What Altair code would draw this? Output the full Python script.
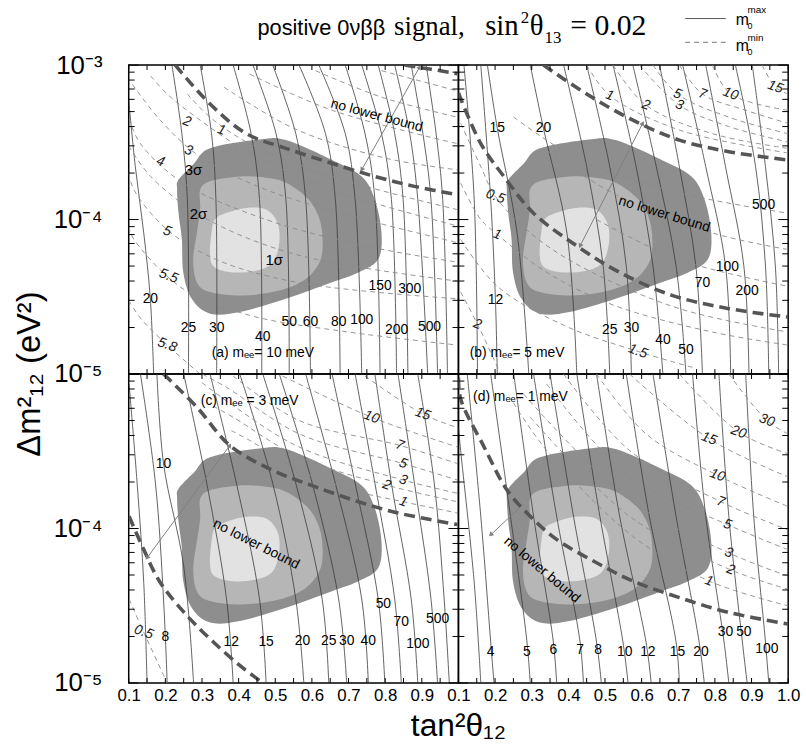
import altair as alt
import pandas as pd

W, H = 333, 312

# ---------------- shared confidence regions (tan^2, dm^2) ----------------
R3_X = [0.236, 0.278, 0.322, 0.457, 0.529, 0.655, 0.736, 0.772, 0.790, 0.781, 0.727, 0.655, 0.529, 0.403, 0.322, 0.272, 0.249, 0.245, 0.236, 0.232]
R3_Y = [1.81e-4, 2.3e-4, 2.89e-4, 3.30e-4, 3.27e-4, 2.43e-4, 1.90e-4, 1.345e-4, 8.2e-5, 5.54e-5, 4.55e-5, 3.93e-5, 3.07e-5, 2.52e-5, 2.46e-5, 3.07e-5, 4.55e-5, 7.45e-5, 1.10e-4, 1.56e-4]
R2_X = [0.295, 0.322, 0.385, 0.439, 0.520, 0.583, 0.614, 0.628, 0.624, 0.583, 0.511, 0.412, 0.322, 0.286, 0.276, 0.286, 0.295]
R2_Y = [1.56e-4, 1.77e-4, 1.88e-4, 1.90e-4, 1.77e-4, 1.41e-4, 1.105e-4, 8.22e-5, 5.54e-5, 4.12e-5, 3.47e-5, 3.22e-5, 3.39e-5, 3.93e-5, 5.54e-5, 8.22e-5, 1.16e-4]
R1_X = [0.335, 0.367, 0.421, 0.475, 0.506, 0.511, 0.493, 0.448, 0.385, 0.335, 0.322, 0.326]
R1_Y = [1.0e-4, 1.105e-4, 1.19e-4, 1.16e-4, 9.53e-5, 7.1e-5, 5.28e-5, 4.67e-5, 4.55e-5, 4.9e-5, 5.83e-5, 8.22e-5]

# tick positions / labels
X_TICKS = [0.1, 0.15, 0.2, 0.25, 0.3, 0.35, 0.4, 0.45, 0.5, 0.55, 0.6, 0.65, 0.7, 0.75, 0.8, 0.85, 0.9, 0.95, 1.0]
Y_MINOR = [2e-5, 3e-5, 4e-5, 5e-5, 6e-5, 7e-5, 8e-5, 9e-5, 2e-4, 3e-4, 4e-4, 5e-4, 6e-4, 7e-4, 8e-4, 9e-4]
Y_MAJOR = [1e-5, 1e-4, 1e-3]
X_LABELS_C = [0.1, 0.2, 0.3, 0.4, 0.5, 0.6, 0.7, 0.8, 0.9]
X_LABELS_D = [0.1, 0.2, 0.3, 0.4, 0.5, 0.6, 0.7, 0.8, 0.9, 1.0]
Y_LABELS_A = [1e-3, 1e-4, 1e-5]
Y_LABELS_C = [1e-4, 1e-5]

# ---------------- panel (a): m_ee = 10 meV ----------------
LA = [1e-3, 3.6e-4, 1.35e-4, 1e-5]
A_SOLID = [
    ("20", [0.100, 0.118, 0.141, 0.159, 0.168], [5.9e-4, 2.2e-4, 8.2e-5, 3.07e-5, 1e-5]),
    ("25", [0.218, 0.245, 0.260, 0.263], LA),
    ("30", [0.295, 0.326, 0.338, 0.340], LA),
    ("40", [0.385, 0.434, 0.457, 0.463], LA),
    ("50", [0.439, 0.502, 0.529, 0.538], LA),
    ("60", [0.493, 0.556, 0.583, 0.596], LA),
    ("80", [0.565, 0.637, 0.664, 0.677], LA),
    ("100", [0.619, 0.691, 0.718, 0.736], LA),
    ("150", [0.691, 0.745, 0.772, 0.786], LA),
    ("200", [0.736, 0.790, 0.817, 0.831], LA),
    ("300", [0.781, 0.826, 0.849, 0.862], LA),
    ("500", [0.826, 0.867, 0.889, 0.916], LA),
    ("", [0.871, 0.903, 0.925, 0.943], LA),
    ("", [0.912, 0.939, 0.957, 0.970], LA),
]
A_SOLID_LAB = [("20", 0.159, 3.07e-5), ("25", 0.263, 1.97e-5), ("30", 0.340, 1.97e-5), ("40", 0.466, 1.74e-5),
               ("50", 0.538, 2.17e-5), ("60", 0.596, 2.17e-5), ("80", 0.673, 2.17e-5), ("100", 0.736, 2.22e-5),
               ("150", 0.786, 3.7e-5), ("300", 0.867, 3.55e-5), ("200", 0.831, 1.92e-5), ("500", 0.921, 2.02e-5)]
A_DASH = [
    ("1", [0.26, 0.322, 0.430, 0.655, 0.997], [6.5e-4, 4.6e-4, 3.1e-4, 1.9e-4, 1.16e-4]),
    ("2", [0.16, 0.205, 0.295, 0.430, 0.655, 0.997], [8.5e-4, 6.5e-4, 4.4e-4, 2.7e-4, 1.56e-4, 9.1e-5]),
    ("3", [0.11, 0.186, 0.295, 0.475, 0.745, 0.997], [7.5e-4, 4.4e-4, 2.55e-4, 1.56e-4, 1.0e-4, 7.1e-5]),
    ("4", [0.10, 0.132, 0.249, 0.475, 0.745, 0.997], [4.5e-4, 3.1e-4, 1.72e-4, 1.0e-4, 6.75e-5, 5.3e-5]),
    ("", [0.10, 0.16, 0.30, 0.55, 0.997], [3.0e-4, 1.9e-4, 1.05e-4, 6.0e-5, 4.0e-5]),
    ("5", [0.10, 0.114, 0.205, 0.340, 0.565, 0.997], [2.0e-4, 1.56e-4, 8.6e-5, 5.5e-5, 3.9e-5, 3.07e-5]),
    ("5.5", [0.10, 0.114, 0.249, 0.430, 0.700, 0.997], [9e-5, 7.45e-5, 3.55e-5, 2.4e-5, 1.87e-5, 1.54e-5]),
    ("5.8", [0.10, 0.132, 0.205, 0.295], [3e-5, 2.3e-5, 1.54e-5, 1e-5]),
    ("", [0.36, 0.55, 0.80, 0.997], [7.2e-4, 3.9e-4, 2.5e-4, 2.1e-4]),
    ("", [0.43, 0.655, 0.997], [8.75e-4, 5.1e-4, 3.1e-4]),
    ("", [0.61, 0.79, 0.997], [9.2e-4, 6.2e-4, 4.6e-4]),
    ("", [0.79, 0.997], [9.2e-4, 6.8e-4]),
]
A_DASH_LAB = [("2", 0.259, 4.3e-4), ("1", 0.353, 3.8e-4), ("3", 0.263, 2.8e-4), ("4", 0.187, 2.37e-4),
              ("5", 0.205, 8.4e-5), ("5.5", 0.209, 4.3e-5), ("5.8", 0.205, 1.54e-5)]
A_THICK = [
    ("t1", [0.227, 0.322, 0.421, 0.529, 0.655, 0.772, 0.880, 0.997], [1e-3, 5.6e-4, 3.6e-4, 2.89e-4, 2.31e-4, 1.9e-4, 1.64e-4, 1.45e-4]),
    ("t2", [0.853, 0.925, 0.997], [1e-3, 9.4e-4, 8.8e-4]),
]
A_ARROWS = [(0.894, 9.7e-4, 0.736, 2.1e-4)]
A_HEADS = [(0.894, 9.7e-4, 29), (0.736, 2.1e-4, 209)]
A_NOTE = ("no lower bound", 0.777, 4.7e-4, 15)
A_TAG = ("(a) mₑₑ= 10 meV", 0.466, 1.36e-5)
A_SIGMA = [("3σ", 0.277, 2.1e-4), ("2σ", 0.290, 1.08e-4), ("1σ", 0.497, 5.5e-5)]

# ---------------- panel (b): m_ee = 5 meV ----------------
LB = [1e-3, 2.2e-4, 5.0e-5, 1e-5]
B_SOLID = [
    ("", [0.115, 0.143, 0.152], [1e-3, 1.35e-4, 1e-5]),
    ("12", [0.161, 0.188, 0.201, 0.206], [1e-3, 1.35e-4, 3.0e-5, 1e-5]),
    ("15", [0.179, 0.206, 0.260, 0.292], [1e-3, 3.9e-4, 8.2e-5, 1e-5]),
    ("20", [0.296, 0.332, 0.396, 0.423], [1e-3, 3.9e-4, 8.2e-5, 1e-5]),
    ("25", [0.387, 0.450, 0.495, 0.513], LB),
    ("30", [0.450, 0.513, 0.558, 0.572], LB),
    ("40", [0.522, 0.585, 0.631, 0.658], LB),
    ("50", [0.576, 0.640, 0.694, 0.721], LB),
    ("70", [0.649, 0.703, 0.748, 0.766], LB),
    ("100", [0.712, 0.775, 0.829, 0.843], LB),
    ("200", [0.775, 0.829, 0.879, 0.893], LB),
    ("500", [0.856, 0.911, 0.938, 0.947], LB),
    ("", [0.902, 0.938, 0.965, 0.974], LB),
]
B_SOLID_LAB = [("15", 0.206, 3.9e-4), ("20", 0.332, 3.9e-4), ("12", 0.201, 3.0e-5), ("25", 0.513, 1.92e-5),
               ("30", 0.572, 1.97e-5), ("40", 0.658, 1.66e-5), ("50", 0.721, 1.43e-5), ("70", 0.766, 3.9e-5),
               ("100", 0.834, 4.9e-5), ("200", 0.888, 3.47e-5), ("500", 0.933, 1.25e-4)]
B_DASH = [
    ("1", [0.450, 0.513, 0.703, 0.999], [1e-3, 6.35e-4, 3.8e-4, 2.7e-4]),
    ("2", [0.522, 0.612, 0.793, 0.999], [1e-3, 5.5e-4, 3.6e-4, 2.89e-4]),
    ("3", [0.594, 0.703, 0.838, 0.999], [1e-3, 5.5e-4, 4.0e-4, 3.18e-4]),
    ("5", [0.631, 0.698, 0.838, 0.999], [1e-3, 6.5e-4, 4.6e-4, 3.6e-4]),
    ("7", [0.703, 0.766, 0.884, 0.999], [1e-3, 6.5e-4, 5.1e-4, 4.2e-4]),
    ("10", [0.793, 0.843, 0.999], [1e-3, 6.5e-4, 5.1e-4]),
    ("15", [0.929, 0.965, 0.999], [1e-3, 7.2e-4, 6.5e-4]),
    ("0.5", [0.106, 0.161, 0.201, 0.296, 0.432, 0.703, 0.999], [4.2e-4, 2.2e-4, 1.41e-4, 8.2e-5, 5.0e-5, 2.65e-5, 1.87e-5]),
    ("1", [0.106, 0.161, 0.206, 0.341, 0.522, 0.793, 0.999], [1.72e-4, 1.0e-4, 8.0e-5, 4.55e-5, 2.8e-5, 1.87e-5, 1.54e-5]),
    ("1.5", [0.106, 0.206, 0.387, 0.590, 0.748], [7.45e-5, 3.7e-5, 2.07e-5, 1.4e-5, 1.09e-5]),
    ("2", [0.106, 0.152, 0.215], [3.4e-5, 2.1e-5, 1e-5]),
    ("", [0.251, 0.432, 0.703, 0.999], [4.6e-4, 2.43e-4, 1.49e-4, 1.1e-4]),
    ("", [0.341, 0.522, 0.793, 0.999], [2.8e-4, 1.48e-4, 8.2e-5, 6.4e-5]),
    ("", [0.477, 0.703, 0.999], [1.0e-4, 5.5e-5, 3.7e-5]),
]
B_DASH_LAB = [("1", 0.513, 6.35e-4), ("2", 0.612, 5.5e-4), ("5", 0.698, 6.5e-4), ("3", 0.703, 5.5e-4),
              ("7", 0.766, 6.5e-4), ("10", 0.843, 6.5e-4), ("15", 0.965, 7.2e-4), ("0.5", 0.201, 1.41e-4),
              ("1", 0.206, 8.0e-5), ("2", 0.152, 2.1e-5), ("1.5", 0.590, 1.4e-5)]
B_THICK = [
    ("t1", [0.332, 0.450, 0.576, 0.703, 0.838, 0.999], [1e-3, 6.5e-4, 4.4e-4, 3.27e-4, 2.75e-4, 2.43e-4]),
    ("t2", [0.100, 0.161, 0.224, 0.305, 0.423, 0.540, 0.685, 0.838, 0.999], [6.6e-4, 3.1e-4, 1.9e-4, 1.1e-4, 6.75e-5, 4.55e-5, 3.22e-5, 2.65e-5, 2.34e-5]),
]
B_ARROWS = [(0.603, 4.2e-4, 0.432, 6.75e-5)]
B_HEADS = [(0.603, 4.2e-4, 27), (0.432, 6.75e-5, 207)]
B_NOTE = ("no lower bound", 0.662, 1.08e-4, 17)
B_TAG = ("(b) mₑₑ= 5 meV", 0.260, 1.36e-5)

# ---------------- panel (c): m_ee = 3 meV ----------------
LC = [1e-3, 1.96e-4, 3.49e-5, 1e-5]
C_SOLID = [
    ("", [0.101, 0.123, 0.141, 0.150], [8.6e-4, 1.96e-4, 4.47e-5, 1e-5]),
    ("8", [0.132, 0.173, 0.195, 0.205], LC),
    ("10", [0.177, 0.195, 0.250, 0.277], [1e-3, 2.63e-4, 5.7e-5, 1e-5]),
    ("12", [0.250, 0.313, 0.367, 0.385], LC),
    ("15", [0.322, 0.394, 0.457, 0.475], LC),
    ("20", [0.403, 0.493, 0.556, 0.578], LC),
    ("25", [0.466, 0.556, 0.628, 0.646], LC),
    ("30", [0.511, 0.601, 0.673, 0.695], LC),
    ("40", [0.583, 0.664, 0.736, 0.754], LC),
    ("50", [0.655, 0.718, 0.781, 0.799], LC),
    ("70", [0.718, 0.772, 0.826, 0.844], LC),
    ("100", [0.772, 0.817, 0.871, 0.889], LC),
    ("500", [0.835, 0.880, 0.925, 0.943], LC),
    ("", [0.889, 0.934, 0.961, 0.975], LC),
]
C_SOLID_LAB = [("10", 0.195, 2.63e-4), ("8", 0.200, 1.98e-5), ("12", 0.380, 1.84e-5), ("15", 0.475, 1.84e-5),
               ("20", 0.574, 1.86e-5), ("25", 0.646, 1.86e-5), ("30", 0.695, 1.86e-5), ("40", 0.754, 1.86e-5),
               ("50", 0.795, 3.24e-5), ("70", 0.844, 2.47e-5), ("100", 0.889, 1.79e-5), ("500", 0.943, 2.6e-5)]
C_DASH = [
    ("1", [0.38, 0.430, 0.565, 0.727, 0.849, 0.997], [4.3e-4, 3.72e-4, 2.38e-4, 1.73e-4, 1.49e-4, 1.26e-4]),
    ("2", [0.33, 0.385, 0.565, 0.804, 0.997], [6.2e-4, 5.25e-4, 2.9e-4, 1.91e-4, 1.49e-4]),
    ("3", [0.30, 0.367, 0.565, 0.849, 0.997], [8.8e-4, 6.7e-4, 3.37e-4, 2.06e-4, 1.69e-4]),
    ("5", [0.30, 0.367, 0.565, 0.849, 0.997], [1e-3, 8.2e-4, 4.1e-4, 2.63e-4, 2.06e-4]),
    ("7", [0.385, 0.565, 0.840, 0.997], [9.7e-4, 5.0e-4, 3.45e-4, 2.63e-4]),
    ("10", [0.520, 0.763, 0.997], [9.7e-4, 5.25e-4, 3.37e-4]),
    ("15", [0.745, 0.903, 0.997], [9.7e-4, 5.5e-4, 4.5e-4]),
    ("0.5", [0.101, 0.141, 0.205], [3.49e-5, 2.13e-5, 1e-5]),
]
C_DASH_LAB = [("10", 0.763, 5.25e-4), ("15", 0.903, 5.5e-4), ("7", 0.840, 3.45e-4), ("5", 0.849, 2.63e-4),
              ("3", 0.849, 2.06e-4), ("2", 0.804, 1.91e-4), ("1", 0.849, 1.49e-4), ("0.5", 0.141, 2.13e-5)]
C_THICK = [
    ("t1", [0.195, 0.286, 0.376, 0.493, 0.610, 0.727, 0.835, 0.997], [1e-3, 6.1e-4, 3.45e-4, 2.38e-4, 1.86e-4, 1.49e-4, 1.26e-4, 1.06e-4]),
    ("t2", [0.101, 0.141, 0.186, 0.259, 0.331, 0.403, 0.466], [1.2e-4, 7.3e-5, 4.47e-5, 2.73e-5, 1.84e-5, 1.3e-5, 1e-5]),
]
C_ARROWS = [(0.376, 3.45e-4, 0.150, 6.45e-5)]
C_HEADS = [(0.376, 3.45e-4, 36), (0.150, 6.45e-5, 216)]
C_NOTE = ("no lower bound", 0.448, 7.9e-5, 27)
C_TAG = ("(c) mₑₑ = 3 meV", 0.430, 6.7e-4)

# ---------------- panel (d): m_ee = 1 meV ----------------
LD = [1e-3, 1.2e-4, 1.84e-5, 1e-5]
D_SOLID = [
    ("", [0.100, 0.106, 0.143, 0.161], [4.5e-4, 3.2e-4, 4.47e-5, 1e-5]),
    ("4", [0.124, 0.161, 0.188, 0.197], LD),
    ("5", [0.188, 0.242, 0.287, 0.296], LD),
    ("6", [0.251, 0.305, 0.359, 0.368], LD),
    ("7", [0.305, 0.368, 0.432, 0.441], LD),
    ("8", [0.350, 0.414, 0.477, 0.490], LD),
    ("10", [0.423, 0.486, 0.549, 0.563], LD),
    ("12", [0.477, 0.540, 0.612, 0.626], LD),
    ("15", [0.558, 0.621, 0.694, 0.703], LD),
    ("20", [0.631, 0.694, 0.757, 0.771], LD),
    ("30", [0.739, 0.775, 0.825, 0.838], LD),
    ("50", [0.811, 0.838, 0.875, 0.888], LD),
    ("100", [0.884, 0.906, 0.938, 0.947], LD),
]
D_SOLID_LAB = [("4", 0.188, 1.59e-5), ("5", 0.287, 1.59e-5), ("6", 0.359, 1.63e-5), ("7", 0.432, 1.63e-5),
               ("8", 0.481, 1.63e-5), ("10", 0.554, 1.59e-5), ("12", 0.617, 1.59e-5), ("15", 0.698, 1.59e-5),
               ("20", 0.762, 1.59e-5), ("30", 0.829, 2.13e-5), ("50", 0.879, 2.13e-5), ("100", 0.942, 1.67e-5)]
D_DASH = [
    ("1", [0.25, 0.341, 0.576, 0.784, 0.999], [6.5e-4, 3.2e-4, 8.9e-5, 4.57e-5, 3.16e-5]),
    ("2", [0.296, 0.567, 0.843, 0.999], [5.25e-4, 1.2e-4, 5.4e-5, 4.05e-5]),
    ("3", [0.278, 0.567, 0.838, 0.999], [7.4e-4, 1.53e-4, 6.95e-5, 4.92e-5]),
    ("5", [0.341, 0.567, 0.834, 0.999], [8.6e-4, 2.16e-4, 1.06e-4, 7.3e-5]),
    ("7", [0.387, 0.567, 0.816, 0.999], [1e-3, 3.2e-4, 1.49e-4, 9.8e-5]),
    ("10", [0.477, 0.612, 0.807, 0.999], [1e-3, 4.1e-4, 2.21e-4, 1.39e-4]),
    ("15", [0.567, 0.784, 0.999], [1e-3, 3.81e-4, 2.16e-4]),
    ("20", [0.703, 0.865, 0.999], [1e-3, 4.2e-4, 3.05e-4]),
    ("30", [0.838, 0.942, 0.999], [1e-3, 5.0e-4, 4.1e-4]),
]
D_DASH_LAB = [("30", 0.942, 5.0e-4), ("20", 0.865, 4.2e-4), ("15", 0.784, 3.81e-4), ("10", 0.807, 2.21e-4),
              ("7", 0.816, 1.49e-4), ("5", 0.834, 1.06e-4), ("3", 0.838, 6.95e-5), ("2", 0.843, 5.4e-5),
              ("1", 0.784, 4.57e-5)]
D_THICK = [
    ("t1", [0.100, 0.106, 0.170, 0.233, 0.296, 0.368, 0.477, 0.576, 0.703, 0.838, 0.999],
     [9.5e-4, 6.9e-4, 3.37e-4, 1.77e-4, 1.2e-4, 8.5e-5, 6.0e-5, 4.57e-5, 3.57e-5, 2.86e-5, 2.41e-5]),
]
D_ARROWS = [(0.265, 1.35e-4, 0.188, 9.1e-5)]
D_HEADS = [(0.188, 9.1e-5, 227)]
D_NOTE = ("no lower bound", 0.328, 5.4e-5, 40)
D_TAG = ("(d) mₑₑ= 1 meV", 0.269, 7.05e-4)

FONT = "Liberation Sans"
SERIF = "Liberation Serif"


def xaxis(vals):
    if not vals:
        return None
    return alt.Axis(values=vals, format=".1f", labelFontSize=17, labelFont=FONT, labelColor="black",
                    labelPadding=5, labelFlush=False, labelOverlap=False, labelBound=False,
                    domain=False, ticks=False, tickSize=0, grid=False, title=None)


def yaxis(vals):
    if not vals:
        return None
    return alt.Axis(values=vals,
                    labelExpr="datum.value > 0.0005 ? '10⁻³' : (datum.value > 0.00005 ? '10⁻⁴' : '10⁻⁵')",
                    labelFontSize=26, labelFont=FONT, labelColor="black", labelPadding=27,
                    labelFlush=False, labelOverlap=False, domain=False, ticks=False, tickSize=0,
                    grid=False, title=None)


def lines_df(lines):
    rows = []
    for k, (lab, xs, ys) in enumerate(lines):
        for i, (x, y) in enumerate(zip(xs, ys)):
            rows.append({"id": k, "i": i, "x": x, "y": y})
    return pd.DataFrame(rows)


def lab_df(labs):
    return pd.DataFrame([{"t": t, "x": x, "y": y} for t, x, y in labs])


def panel(solid, solid_lab, dash, dash_lab, thick, arrows, heads, note, tag, xlab=None, ylab=None, extra=()):
    xa = xaxis(xlab)
    ya = yaxis(ylab)

    def X():
        return alt.X("x:Q", scale=alt.Scale(domain=[0.1, 1.0], nice=False, zero=False), axis=xa)

    def Y():
        return alt.Y("y:Q", scale=alt.Scale(type="log", domain=[1e-5, 1e-3], nice=False), axis=ya)

    layers = []
    for rx, ry, col in [(R3_X, R3_Y, "#8e8e8e"), (R2_X, R2_Y, "#b6b6b6"), (R1_X, R1_Y, "#e2e2e2")]:
        df = pd.DataFrame({"x": rx, "y": ry, "i": list(range(len(rx)))})
        layers.append(alt.Chart(df).mark_line(filled=True, color=col, interpolate="cardinal-closed", strokeWidth=0)
                      .encode(X(), Y(), order="i:Q"))
    layers.append(alt.Chart(lines_df(solid)).mark_line(color="#3a3a3a", strokeWidth=0.8, interpolate="catmull-rom", clip=True)
                  .encode(X(), Y(), detail="id:N", order="i:Q"))
    layers.append(alt.Chart(lines_df(dash)).mark_line(color="#8a8a8a", strokeWidth=0.9, strokeDash=[5, 4], interpolate="catmull-rom", clip=True)
                  .encode(X(), Y(), detail="id:N", order="i:Q"))
    layers.append(alt.Chart(lines_df(thick)).mark_line(color="#555555", strokeWidth=3.6, strokeDash=[11, 6], interpolate="catmull-rom", clip=True)
                  .encode(X(), Y(), detail="id:N", order="i:Q"))
    adf = pd.DataFrame([{"x": a, "y": b, "x2": c, "y2": d} for a, b, c, d in arrows])
    layers.append(alt.Chart(adf).mark_rule(color="#808080", strokeWidth=1).encode(X(), Y(), x2="x2:Q", y2="y2:Q"))
    hdf = pd.DataFrame([{"x": a, "y": b, "a": c} for a, b, c in heads])
    layers.append(alt.Chart(hdf).mark_point(shape="triangle-up", filled=True, color="#808080", size=28, opacity=1)
                  .encode(X(), Y(), angle=alt.Angle("a:Q", scale=None)))
    layers.append(alt.Chart(lab_df(solid_lab)).mark_text(font=FONT, fontSize=14, color="black")
                  .encode(X(), Y(), text="t:N"))
    layers.append(alt.Chart(lab_df(dash_lab)).mark_text(font=FONT, fontSize=14, fontStyle="italic", angle=20, color="#222")
                  .encode(X(), Y(), text="t:N"))
    layers.append(alt.Chart(lab_df([note[:3]])).mark_text(font=FONT, fontSize=14, angle=note[3], color="black")
                  .encode(X(), Y(), text="t:N"))
    layers.append(alt.Chart(lab_df([tag])).mark_text(font=FONT, fontSize=14, color="black")
                  .encode(X(), Y(), text="t:N"))
    # inward ticks on all four sides
    xt = pd.DataFrame({"x": X_TICKS})
    layers.append(alt.Chart(xt).mark_rule(color="black", strokeWidth=1).encode(X(), y=alt.value(0), y2=alt.value(5)))
    layers.append(alt.Chart(xt).mark_rule(color="black", strokeWidth=1).encode(X(), y=alt.value(H - 5), y2=alt.value(H)))
    ymn = pd.DataFrame({"y": Y_MINOR})
    ymj = pd.DataFrame({"y": Y_MAJOR})
    layers.append(alt.Chart(ymn).mark_rule(color="black", strokeWidth=1).encode(Y(), x=alt.value(0), x2=alt.value(6)))
    layers.append(alt.Chart(ymn).mark_rule(color="black", strokeWidth=1).encode(Y(), x=alt.value(W - 6), x2=alt.value(W)))
    layers.append(alt.Chart(ymj).mark_rule(color="black", strokeWidth=1).encode(Y(), x=alt.value(0), x2=alt.value(10)))
    layers.append(alt.Chart(ymj).mark_rule(color="black", strokeWidth=1).encode(Y(), x=alt.value(W - 10), x2=alt.value(W)))
    for e in extra:
        if isinstance(e, tuple):
            layers.append(alt.Chart(lab_df(e[0])).mark_text(**e[1]).encode(X(), Y(), text="t:N"))
        else:
            layers.append(e)
    return alt.layer(*layers).properties(width=W, height=H)


one = pd.DataFrame({"k": [0]})


def vtext(txt, x, y, **kw):
    base = dict(align="left", baseline="alphabetic", color="black")
    base.update(kw)
    return alt.Chart(one).mark_text(**base).encode(x=alt.value(x), y=alt.value(y), text=alt.value(txt))


# header / titles placed around the panels
header_a = [
    vtext("positive 0νββ", 130, -30, font=FONT, fontSize=22),
    vtext("signal,", 268, -30, font=SERIF, fontSize=27),
    vtext("sin", 360, -30, font=SERIF, fontSize=29),
    vtext("2", 396, -43, font=SERIF, fontSize=17),
    vtext("θ", 405, -30, font=SERIF, fontSize=29),
    vtext("13", 420, -22, font=SERIF, fontSize=17),
    vtext("= 0.02", 446, -30, font=SERIF, fontSize=30),
    vtext("Δm²₁₂ (eV²)", -100, H, font=FONT, fontSize=33, angle=270, align="center", baseline="middle"),
    (A_SIGMA, dict(font=FONT, fontSize=15, color="black")),
]
header_b = [
    alt.Chart(one).mark_rule(color="#555", strokeWidth=1).encode(x=alt.value(229), x2=alt.value(270), y=alt.value(-47)),
    alt.Chart(one).mark_rule(color="#777", strokeWidth=1, strokeDash=[5, 4]).encode(x=alt.value(229), x2=alt.value(270), y=alt.value(-23)),
    vtext("m", 280, -40, font=FONT, fontSize=16),
    vtext("0", 292, -36, font=FONT, fontSize=9),
    vtext("max", 292, -53, font=FONT, fontSize=10),
    vtext("m", 280, -14, font=FONT, fontSize=16),
    vtext("0", 292, -10, font=FONT, fontSize=9),
    vtext("min", 292, -24, font=FONT, fontSize=10),
]
header_c = [
    vtext("tan²θ₁₂", W, H + 44, font=FONT, fontSize=32, align="center", baseline="middle"),
]

pa = panel(A_SOLID, A_SOLID_LAB, A_DASH, A_DASH_LAB, A_THICK, A_ARROWS, A_HEADS, A_NOTE, A_TAG,
           ylab=Y_LABELS_A, extra=header_a)
pb = panel(B_SOLID, B_SOLID_LAB, B_DASH, B_DASH_LAB, B_THICK, B_ARROWS, B_HEADS, B_NOTE, B_TAG, extra=header_b)
pc = panel(C_SOLID, C_SOLID_LAB, C_DASH, C_DASH_LAB, C_THICK, C_ARROWS, C_HEADS, C_NOTE, C_TAG,
           xlab=X_LABELS_C, ylab=Y_LABELS_C, extra=header_c)
pd_ = panel(D_SOLID, D_SOLID_LAB, D_DASH, D_DASH_LAB, D_THICK, D_ARROWS, D_HEADS, D_NOTE, D_TAG,
            xlab=X_LABELS_D)

chart = alt.concat(pa, pb, pc, pd_, columns=2, spacing=0, bounds="flush").properties(
    padding={"left": 13, "top": 0, "right": 5, "bottom": 5},
    background="white",
).configure_view(stroke="black", strokeWidth=1.5)

chart.save("out.html", embed_options={"renderer": "svg", "actions": False})
